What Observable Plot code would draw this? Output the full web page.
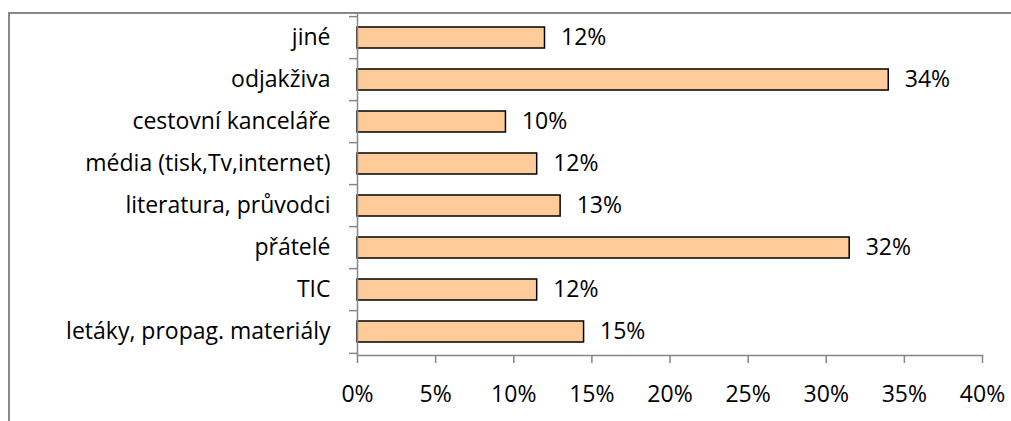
<!DOCTYPE html>
<html>
<head>
<meta charset="utf-8">
<script src="https://cdn.jsdelivr.net/npm/d3@7"></script>
<script src="https://cdn.jsdelivr.net/npm/@observablehq/plot@0.6"></script>
<style>
  html, body { margin: 0; padding: 0; background: #fff; }
  #wrap { position: relative; width: 1011px; height: 421px; overflow: hidden; }
  #frame { position: absolute; left: 8px; top: 12px; width: 1100px; height: 500px; border: 2px solid #888; box-sizing: border-box; pointer-events: none; }
  #chart { position: absolute; left: 0; top: 0; }
</style>
</head>
<body>
<div id="wrap"><div id="chart"></div><div id="frame"></div></div>
<script>
const categories = ["jiné", "odjakživa", "cestovní kanceláře", "média (tisk,Tv,internet)", "literatura, průvodci", "přátelé", "TIC", "letáky, propag. materiály"];
const values = [12, 34, 9.5, 11.5, 13, 31.5, 11.5, 14.5];
const valueLabels = ["12%", "34%", "10%", "12%", "13%", "32%", "12%", "15%"];
const xTicks = [0, 5, 10, 15, 20, 25, 30, 35, 40];

const data = categories.map((c, i) => ({cat: c, value: values[i], label: valueLabels[i]}));

const W = 1011, H = 421, mT = 13, mB = 66, mL = 357, mR = 29;
const step = (H - mT - mB) / categories.length;
const font = "'Open Sans', sans-serif";
const fs = 23;

const chart = Plot.plot({
  width: W, height: H,
  marginTop: mT, marginBottom: mB, marginLeft: mL, marginRight: mR,
  style: {fontFamily: font, fontSize: fs + "px", color: "#000", background: "transparent", overflow: "visible"},
  x: {domain: [0, 40], axis: null, label: null},
  y: {domain: categories, paddingInner: 0.5, paddingOuter: 0.25, axis: null, label: null},
  marks: [
    Plot.barX(data, {x: "value", y: "cat", fill: "#FFCC99", stroke: "#000", strokeWidth: 1.5}),
    Plot.ruleX([0], {stroke: "#868686", strokeWidth: 1.5}),
    Plot.frame({anchor: "bottom", stroke: "#868686", strokeWidth: 1.5}),
    Plot.axisX(xTicks, {anchor: "bottom", label: null, tickSize: 8, tickPadding: 22, stroke: "#868686", strokeWidth: 1.5, fill: "#000", tickFormat: d => d + "%", fontSize: fs}),
    Plot.axisY(categories, {anchor: "left", label: null, tickSize: 8, text: null, dy: -step / 2, stroke: "#868686", strokeWidth: 1.5}),
    Plot.axisY([categories[categories.length - 1]], {anchor: "left", label: null, tickSize: 8, text: null, dy: step / 2, stroke: "#868686", strokeWidth: 1.5}),
    Plot.axisY(categories, {anchor: "left", label: null, tickSize: 0, tickPadding: 27, fill: "#000", fontSize: fs}),
    Plot.text(data, {x: "value", y: "cat", text: "label", dx: 16, textAnchor: "start", fill: "#000", fontSize: fs})
  ]
});
document.getElementById("chart").appendChild(chart);
</script>
</body>
</html>
